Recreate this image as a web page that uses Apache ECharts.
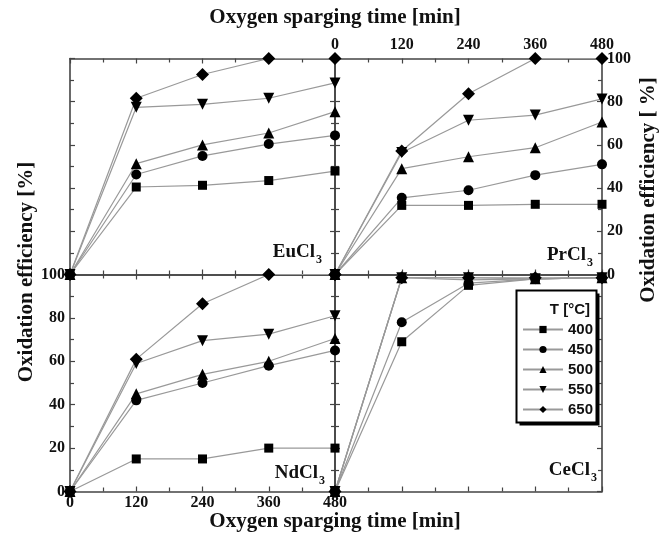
<!DOCTYPE html>
<html>
<head>
<meta charset="utf-8">
<script src="https://cdn.jsdelivr.net/npm/echarts@6/dist/echarts.min.js"></script>
<style>html,body{margin:0;padding:0;background:#fff}#c{width:671px;height:540px}</style>
</head>
<body>
<div id="c"></div>
<script>
// ---- data ----
const times = [0, 120, 240, 360, 480];
const temps = ['400', '450', '500', '550', '650'];
const xTicks = ['0', '120', '240', '360', '480'];
const yTicks = ['0', '20', '40', '60', '80', '100'];

const eu400 = [0, 40.5, 41.3, 43.5, 47.9];
const eu450 = [0, 46.3, 54.9, 60.4, 64.4];
const eu500 = [0, 51.3, 60.0, 65.5, 75.4];
const eu550 = [0, 77.4, 78.8, 81.6, 88.7];
const eu650 = [0, 81.6, 92.6, 100, 100];

const pr400 = [0, 32, 32, 32.5, 32.5];
const pr450 = [0, 35.5, 39, 46, 51];
const pr500 = [0, 49, 54.5, 58.7, 70.6];
const pr550 = [0, 56.5, 71.4, 73.8, 81.3];
const pr650 = [0, 57.2, 83.7, 100, 100];

const nd400 = [0, 15, 15, 20, 20];
const nd450 = [0, 42, 50, 58, 65];
const nd500 = [0, 45, 54, 60, 70.5];
const nd550 = [0, 59, 69.5, 72.5, 81];
const nd650 = [0, 61, 86.5, 100, 100];

const ce400 = [0, 69, 95, 98, 98.5];
const ce450 = [0, 78, 96, 98, 98.5];
const ce500 = [0, 98.5, 97.5, 98, 98.5];
const ce550 = [0, 98.5, 98.5, 98, 98.5];
const ce650 = [0, 98.5, 98.5, 98.5, 98.5];

const panels = [
  { name: 'EuCl', sets: [eu400, eu450, eu500, eu550, eu650] },
  { name: 'PrCl', sets: [pr400, pr450, pr500, pr550, pr650] },
  { name: 'NdCl', sets: [nd400, nd450, nd500, nd550, nd650] },
  { name: 'CeCl', sets: [ce400, ce450, ce500, ce550, ce650] }
];

// ---- styling ----
const serif = 'Liberation Serif';
const sans = 'Liberation Sans';
const axisColor = '#444';
const symbols = [
  { symbol: 'rect', size: 9, rotate: 0 },
  { symbol: 'circle', size: 10, rotate: 0 },
  { symbol: 'triangle', size: 11, rotate: 0 },
  { symbol: 'triangle', size: 11, rotate: 180 },
  { symbol: 'diamond', size: 13, rotate: 0 }
];

const grids = [
  { left: 70, top: 58.5, width: 265, height: 216 },
  { left: 335, top: 58.5, width: 267, height: 216 },
  { left: 70, top: 274.5, width: 265, height: 217 },
  { left: 335, top: 274.5, width: 267, height: 217 }
];
// which labels each panel shows: [bottomX, topX, leftY, rightY]
const showLabels = [
  [false, false, false, false],
  [false, true, false, true],
  [true, false, true, false],
  [false, false, false, false]
];

const labelStyle = { fontFamily: serif, fontWeight: 'bold', fontSize: 16, color: '#111' };

function xAxisFor(gi, pos, show) {
  return {
    type: 'value', gridIndex: gi, position: pos, min: 0, max: 480, interval: 120,
    axisLine: { show: true, onZero: false, lineStyle: { color: axisColor, width: 1.6 } },
    axisTick: { show: true, inside: true, length: 5, lineStyle: { color: axisColor, width: 1.2 } },
    minorTick: { show: true, splitNumber: 2, length: 4, lineStyle: { color: axisColor, width: 1.2 } },
    splitLine: { show: false },
    axisLabel: Object.assign({ show: show, margin: pos === 'top' ? 6 : 3,
      formatter: v => xTicks[times.indexOf(v)] }, labelStyle)
  };
}
function yAxisFor(gi, pos, show) {
  return {
    type: 'value', gridIndex: gi, position: pos, min: 0, max: 100, interval: 20,
    axisLine: { show: true, onZero: false, lineStyle: { color: axisColor, width: 1.6 } },
    axisTick: { show: true, inside: true, length: 5, lineStyle: { color: axisColor, width: 1.2 } },
    minorTick: { show: true, splitNumber: 2, length: 4, lineStyle: { color: axisColor, width: 1.2 } },
    splitLine: { show: false },
    axisLabel: Object.assign({ show: show, margin: 5,
      formatter: v => yTicks[v / 20] }, labelStyle)
  };
}

const xAxes = [], yAxes = [], series = [];
grids.forEach((g, gi) => {
  const s = showLabels[gi];
  xAxes.push(xAxisFor(gi, 'bottom', s[0]));
  xAxes.push(xAxisFor(gi, 'top', s[1]));
  yAxes.push(yAxisFor(gi, 'left', s[2]));
  yAxes.push(yAxisFor(gi, 'right', s[3]));
  panels[gi].sets.forEach((vals, ti) => {
    const sym = symbols[ti];
    series.push({
      name: temps[ti], type: 'line', xAxisIndex: gi * 2, yAxisIndex: gi * 2,
      data: times.map((t, k) => [t, vals[k]]),
      symbol: sym.symbol, symbolSize: sym.size, symbolRotate: sym.rotate,
      showAllSymbol: true, animation: false, z: 2,
      lineStyle: { color: '#999', width: 1.2 },
      itemStyle: { color: '#000' },
      emphasis: { disabled: true }
    });
  });
});

// panel label positions: [right edge of main text, center y]
const panelLabelPos = [
  [315, 252],
  [586, 255],
  [318, 473],
  [590, 470]
];
const graphics = [];
panels.forEach((p, i) => {
  const pos = panelLabelPos[i];
  graphics.push({ type: 'text', z: 5, x: pos[0], y: pos[1],
    style: { text: p.name, fontFamily: serif, fontWeight: 'bold', fontSize: 19,
      fill: '#111', textAlign: 'right', textVerticalAlign: 'middle' } });
  graphics.push({ type: 'text', z: 5, x: pos[0] + 1, y: pos[1] + 8,
    style: { text: '3', fontFamily: serif, fontWeight: 'bold', fontSize: 12,
      fill: '#111', textAlign: 'left', textVerticalAlign: 'middle' } });
});
// axis titles
const titleStyle = { fontFamily: serif, fontWeight: 'bold', fontSize: 21, fill: '#111',
  textAlign: 'center', textVerticalAlign: 'middle' };
graphics.push({ type: 'text', x: 335, y: 18, style: Object.assign({ text: 'Oxygen sparging time [min]' }, titleStyle) });
graphics.push({ type: 'text', x: 335, y: 522, style: Object.assign({ text: 'Oxygen sparging time [min]' }, titleStyle) });
graphics.push({ type: 'text', x: 27, y: 272, rotation: Math.PI / 2, style: Object.assign({ text: 'Oxidation efficiency [%]' }, titleStyle) });
graphics.push({ type: 'text', x: 649, y: 190, rotation: Math.PI / 2, style: Object.assign({ text: 'Oxidation efficiency [ %]' }, titleStyle) });
// legend frame with drop shadow
graphics.push({ type: 'rect', z: 3, shape: { x: 519.5, y: 293.5, width: 80, height: 132 }, style: { fill: '#000' } });
graphics.push({ type: 'rect', z: 3, shape: { x: 516.5, y: 290.5, width: 80, height: 132 }, style: { fill: '#fff', stroke: '#000', lineWidth: 2 } });
graphics.push({ type: 'text', z: 5, x: 590, y: 310,
  style: { text: 'T [°C]', fontFamily: sans, fontWeight: 'bold', fontSize: 15, fill: '#111',
    textAlign: 'right', textVerticalAlign: 'middle' } });

const chart = echarts.init(document.getElementById('c'), null, { renderer: 'canvas' });
chart.setOption({
  animation: false,
  backgroundColor: '#fff',
  grid: grids,
  xAxis: xAxes,
  yAxis: yAxes,
  series: series,
  legend: {
    data: temps, orient: 'vertical', left: 522, top: 322, padding: 0,
    itemWidth: 40, itemHeight: 9, itemGap: 5, z: 6,
    selectedMode: false,
    textStyle: { fontFamily: sans, fontWeight: 'bold', fontSize: 15, color: '#111' }
  },
  graphic: graphics
});
</script>
</body>
</html>
